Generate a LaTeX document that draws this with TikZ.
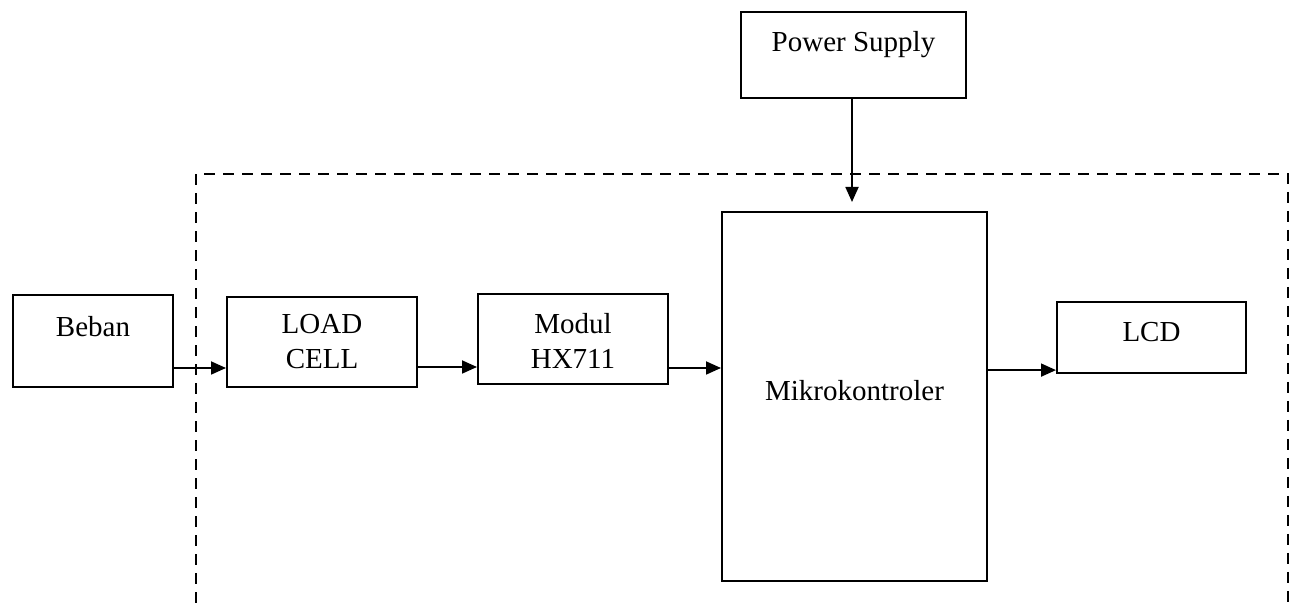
\documentclass[tikz,border=0pt]{standalone}
\usepackage{fontspec}
\setmainfont{Liberation Serif}
\usetikzlibrary{arrows.meta}
\begin{document}
\begin{tikzpicture}[x=0.5pt,y=-0.5pt,
  box/.style={draw, line width=1pt, inner sep=0pt},
  txt/.style={inner sep=0pt, align=center, font=\fontsize{14.5}{17.5}\selectfont},
  arr/.style={line width=0.9pt, -{Triangle[length=7.5pt,width=6.5pt]}},
  encl/.style={line width=1.45pt, dash pattern=on 5.5pt off 4pt}]
\useasboundingbox (0,0) rectangle (1291,603);
% boxes
\node[box, minimum width=80pt, minimum height=46pt] (beban) at (93,341) {};
\node[box, minimum width=95pt, minimum height=45pt] (load) at (322,342) {};
\node[box, minimum width=95pt, minimum height=45pt] (modul) at (573,339) {};
\node[box, minimum width=132.5pt, minimum height=184.5pt] (mikro) at (854.5,396.5) {};
\node[box, minimum width=94.5pt, minimum height=35.5pt] (lcd) at (1151.5,337.5) {};
\node[box, minimum width=112.5pt, minimum height=43pt] (power) at (853.5,55) {};
% texts
\node[txt] (beban-t) at ([yshift=7pt]beban.center) {Beban};
\node[txt] (load-t) at (load.center) {LOAD\\CELL};
\node[txt] (modul-t) at ([yshift=-1.2pt]modul.center) {Modul\\HX711};
\node[txt] (mikro-t) at ([yshift=3pt]mikro.center) {Mikrokontroler};
\node[txt] (lcd-t) at ([yshift=2.8pt]lcd.center) {LCD};
\node[txt] (power-t) at ([yshift=5pt]power.center) {Power Supply};
% dashed enclosure
\coordinate (d1) at (196,603);
\coordinate (d2) at (196,174);
\coordinate (d3) at (1288,174);
\coordinate (d4) at (1288,603);
\draw[encl] (d1) -- (d2) -- (d3) -- (d4);
% connectors
\draw[arr] ([yshift=-13.5pt]beban.east) -- ([yshift=-13.5pt]beban.east -| load.west);
\draw[arr] ([yshift=-12.5pt]load.east) -- ([yshift=-12.5pt]load.east -| modul.west);
\draw[arr] ([yshift=-14.5pt]modul.east) -- ([yshift=-14.5pt]modul.east -| mikro.west);
\draw[arr] ([yshift=-16.3pt]lcd.west -| mikro.east) -- ([yshift=-16.3pt]lcd.west);
\draw[arr] ([xshift=-0.75pt]power.south) -- ([xshift=-0.75pt,yshift=4.5pt]power.south |- mikro.north);
\end{tikzpicture}
\end{document}
